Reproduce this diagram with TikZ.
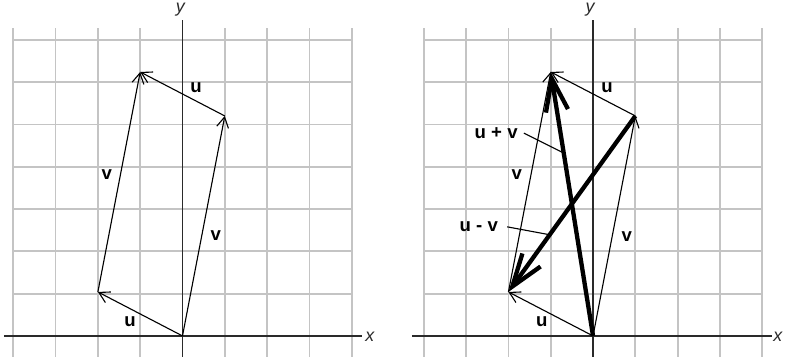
\documentclass[tikz,border=0pt]{standalone}
\usepackage{fontspec}
\setmainfont{Liberation Sans}
\usetikzlibrary{arrows.meta}
\definecolor{grisRejilla}{HTML}{C4C4C4}
\definecolor{grisEje}{HTML}{2A2A2A}
\tikzset{
  rejilla/.style={draw=grisRejilla, line width=1.2pt},
  eje/.style={draw=grisEje, line width=1.1pt},
  etiquetaEje/.style={font=\fontsize{12}{14}\selectfont\itshape, inner sep=0pt, text=grisEje},
  etiquetaVector/.style={font=\fontsize{12.5}{14}\selectfont\bfseries, inner sep=0pt},
  vectorFino/.style={-{Straight Barb[length=7pt, width=8pt]}, line width=0.75pt, black},
  vectorGrueso/.style={-{Straight Barb[length=22pt, width=15pt]}, line width=2.9pt, black},
  lineaGuia/.style={line width=0.75pt, black},
}

\begin{document}
\begin{tikzpicture}[x=1cm, y=1.04cm]
  \useasboundingbox (-4.314,-0.477) rectangle (14.243,7.636);
  % panel izquierdo: u + v como paralelogramo
  \begin{scope}
    \draw[rejilla] (-4,-0.477) grid (4,7);
    \draw[eje] (-4.22,0) -- (4.24,0);
    \draw[eje] (0,-0.477) -- (0,7.18);
    \node[etiquetaEje] (xIzq) at (4.43,-0.02) {x};
    \node[etiquetaEje] (yIzq) at (-0.05,7.41) {y};
    \coordinate (oIzq) at (0,0);
    \coordinate (uIzq) at (-2,1);
    \coordinate (vIzq) at (1,5);
    \coordinate (sIzq) at (-1,6);
    \draw[vectorFino] (oIzq) -- (uIzq);
    \draw[vectorFino] (uIzq) -- (sIzq);
    \draw[vectorFino] (oIzq) -- (vIzq);
    \draw[vectorFino] (vIzq) -- (sIzq);
    \node[etiquetaVector] (uAbajoIzq) at (-1.24,0.32) {u};
    \node[etiquetaVector] (vIzqIzq) at (-1.79,3.66) {v};
    \node[etiquetaVector] (vDerIzq) at (0.79,2.27) {v};
    \node[etiquetaVector] (uArribaIzq) at (0.32,5.64) {u};
  \end{scope}
  % panel derecho: diagonales u + v y u - v
  \begin{scope}[xshift=9.705cm]
    \draw[rejilla] (-4,-0.477) grid (4,7);
    \draw[eje] (-4.28,0) -- (4.23,0);
    \draw[eje] (0,-0.477) -- (0,7.18);
    \node[etiquetaEje] (xDer) at (4.37,-0.02) {x};
    \node[etiquetaEje] (yDer) at (-0.07,7.41) {y};
    \coordinate (oDer) at (0,0);
    \coordinate (uDer) at (-2,1);
    \coordinate (vDer) at (1,5);
    \coordinate (sDer) at (-1,6);
    \draw[vectorFino] (oDer) -- (uDer);
    \draw[vectorFino] (uDer) -- (sDer);
    \draw[vectorFino] (oDer) -- (vDer);
    \draw[vectorFino] (vDer) -- (sDer);
    \draw[vectorGrueso] (oDer) -- (sDer);
    \draw[vectorGrueso] (vDer) -- (uDer);
    \path (oDer) -- (sDer) coordinate[pos=0.693] (pSuma);
    \path (vDer) -- (uDer) coordinate[pos=0.675] (pResta);
    \node[etiquetaVector] (uAbajoDer) at (-1.21,0.32) {u};
    \node[etiquetaVector] (vIzqDer) at (-1.80,3.66) {v};
    \node[etiquetaVector] (vDerDer) at (0.80,2.25) {v};
    \node[etiquetaVector] (uArribaDer) at (0.33,5.64) {u};
    \node[etiquetaVector] (etiqSuma) at (-2.29,4.61) {u + v};
    \node[etiquetaVector] (etiqResta) at (-2.70,2.48) {u - v};
    \draw[lineaGuia] ([xshift=4pt]etiqSuma.east) -- (pSuma);
    \draw[lineaGuia] ([xshift=6pt]etiqResta.east) -- (pResta);
  \end{scope}
\end{tikzpicture}
\end{document}
